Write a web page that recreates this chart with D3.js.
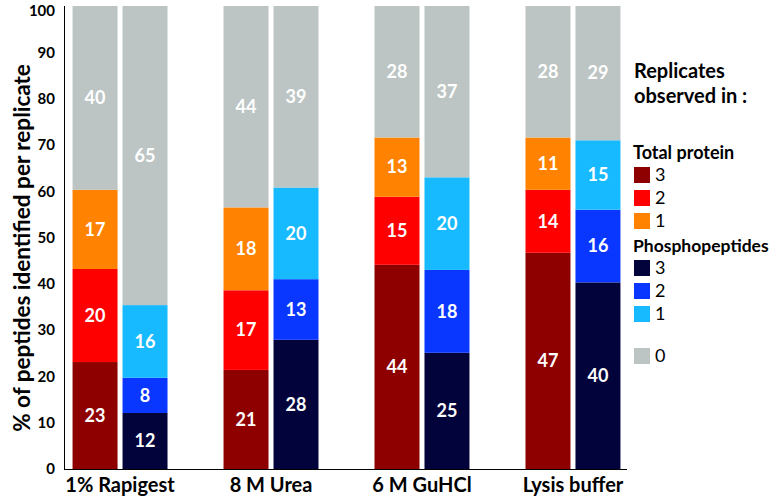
<!DOCTYPE html>
<html><head><meta charset="utf-8">
<script src="https://cdn.jsdelivr.net/npm/d3@7"></script>
<style>body{margin:0;background:#fff}svg{display:block}text{font-family:Lato,"Open Sans",sans-serif}</style>
</head><body><svg id="c" width="776" height="497"></svg>
<script>
const groups = ["1% Rapigest", "8 M Urea", "6 M GuHCl", "Lysis buffer"];
const barTypes = ["Total protein", "Phosphopeptides"];
const levels = ["3", "2", "1", "0"];
// values per group (bottom to top: observed in 3, 2, 1, 0 replicates)
const totalProtein = [
  [23.1, 20.1, 17.1, 39.7],
  [21.4, 17.2, 17.9, 43.5],
  [44.1, 14.7, 12.8, 28.4],
  [46.7, 13.6, 11.3, 28.4]
];
const phosphopeptides = [
  [12.1, 7.6, 15.7, 64.6],
  [27.9, 13.1, 19.8, 39.2],
  [25.1, 17.9, 20.0, 37.0],
  [40.3, 15.7, 15.0, 29.0]
];
const totalColors = ["#8e0000", "#ff0000", "#ff8200", "#bcc5c3"];
const phosphoColors = ["#03033c", "#0a37ff", "#18baff", "#bcc5c3"];
const yTicks = [0, 10, 20, 30, 40, 50, 60, 70, 80, 90, 100];

const svg = d3.select("#c");
const y = d3.scaleLinear().domain([0, 100]).range([469, 6]);
const x0 = d3.scaleBand().domain(groups).range([65, 628]).paddingInner(0.371).paddingOuter(0.05);
const x1 = d3.scaleBand().domain(barTypes).range([0, x0.bandwidth()]).paddingInner(0.1);

const data = [];
groups.forEach((g, gi) => {
  barTypes.forEach((t, ti) => {
    const vals = ti === 0 ? totalProtein[gi] : phosphopeptides[gi];
    const cols = ti === 0 ? totalColors : phosphoColors;
    let acc = 0;
    vals.forEach((v, li) => {
      data.push({g, t, y0: acc, y1: acc + v, v, color: cols[li]});
      acc += v;
    });
  });
});

const segs = svg.append("g").selectAll("g").data(data).join("g");
segs.append("rect")
  .attr("x", d => x0(d.g) + x1(d.t))
  .attr("width", x1.bandwidth())
  .attr("y", d => y(Math.min(100, d.y1)))
  .attr("height", d => y(d.y0) - y(Math.min(100, d.y1)))
  .attr("fill", d => d.color);
segs.append("text")
  .attr("x", d => x0(d.g) + x1(d.t) + x1.bandwidth() / 2)
  .attr("y", d => y((d.y0 + Math.min(100, d.y1)) / 2))
  .attr("dy", "0.35em")
  .attr("text-anchor", "middle")
  .attr("fill", "#fff")
  .attr("font-weight", "bold")
  .attr("font-size", 18)
  .text(d => Math.round(d.v));

// axes
const yAxis = svg.append("g").attr("transform", "translate(64,0)")
  .call(d3.axisLeft(y).tickValues(yTicks).tickSize(0).tickPadding(9));
yAxis.select(".domain").attr("stroke", "#000").attr("d", "M0.5,6V469.5");
yAxis.selectAll("text").attr("font-size", 15).attr("font-weight", "bold").attr("fill", "#000")
  .style("font-family", "Lato, sans-serif");
yAxis.selectAll(".tick").filter(d => d === 100).select("text").attr("dy", "0.6em");

const xAxis = svg.append("g").attr("transform", "translate(0,469)")
  .call(d3.axisBottom(x0).tickSize(0).tickPadding(9));
xAxis.select(".domain").attr("stroke", "#000").attr("d", "M64,0.5H627");
xAxis.selectAll("text").attr("font-size", 20).attr("font-weight", "bold").attr("fill", "#000")
  .style("font-family", "Lato, sans-serif");

svg.append("text")
  .attr("transform", "translate(22,248) rotate(-90)")
  .attr("text-anchor", "middle")
  .attr("dy", "0.35em")
  .attr("font-size", 22.5).attr("font-weight", "bold")
  .text("% of peptides identified per replicate");

// legend
const lg = svg.append("g");
lg.append("text").attr("x", 634).attr("y", 78).attr("font-size", 20).attr("font-weight", "bold").text("Replicates");
lg.append("text").attr("x", 634).attr("y", 103).attr("font-size", 20).attr("font-weight", "bold").text("observed in :");
lg.append("text").attr("x", 633).attr("y", 159).attr("font-size", 18).attr("font-weight", "bold").text("Total protein");
lg.append("text").attr("x", 633).attr("y", 252).attr("font-size", 17.5).attr("font-weight", "bold").text("Phosphopeptides");

const legendItems = [
  {label: levels[0], color: totalColors[0], cy: 175},
  {label: levels[1], color: totalColors[1], cy: 198},
  {label: levels[2], color: totalColors[2], cy: 221},
  {label: levels[0], color: phosphoColors[0], cy: 268},
  {label: levels[1], color: phosphoColors[1], cy: 291},
  {label: levels[2], color: phosphoColors[2], cy: 314},
  {label: levels[3], color: phosphoColors[3], cy: 356}
];
const li = lg.selectAll("g.li").data(legendItems).join("g").attr("class", "li");
li.append("rect").attr("x", 634).attr("y", d => d.cy - 8).attr("width", 16).attr("height", 16).attr("fill", d => d.color);
li.append("text").attr("x", 655).attr("y", d => d.cy).attr("dy", "0.35em").attr("font-size", 18).text(d => d.label);
</script></body></html>
